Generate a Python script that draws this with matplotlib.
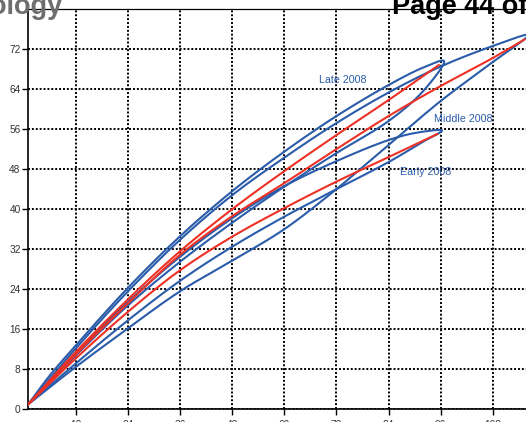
import numpy as np
import matplotlib
matplotlib.use("Agg")
import matplotlib.pyplot as plt

plt.rcParams['font.family'] = ['Liberation Sans', 'DejaVu Sans']

# ---- data -------------------------------------------------------------
x_ticks = [12, 24, 36, 48, 60, 72, 84, 96, 108]
y_ticks = [0, 8, 16, 24, 32, 40, 48, 56, 64, 72]

# Late 2008
late_upper_x = [1, 6, 12, 24, 36, 48, 60, 72, 84, 92]
late_upper_y = [1, 6.8, 12.8, 24.3, 34.6, 43.6, 51.5, 58.6, 64.8, 68.3]
late_tip = (96.8, 69.6)
late_lower_x = [1, 12, 24, 36, 48, 60, 72, 84, 92]
late_lower_y = [1, 10.8, 20.8, 29.5, 37.3, 44.5, 51.2, 57.6, 63.6]
late_mid_x = [1, 12, 24, 36, 48, 60, 72, 84, 95.6]
late_mid_y = [1, 11.5, 22.0, 31.6, 40.0, 47.6, 54.8, 61.8, 68.8]

# Middle 2008
middle_upper_x = [1, 12, 24, 36, 48, 60, 72, 84, 96, 108]
middle_upper_y = [1, 12.2, 23.6, 33.9, 42.8, 50.3, 57.2, 63.3, 68.5, 72.6]
middle_tip = (116.2, 74.8)
middle_lower_x = [1, 12, 24, 36, 48, 60, 72, 84, 96, 108]
middle_lower_y = [1, 8.5, 16.2, 23.6, 29.7, 36.0, 44.0, 52.8, 61.6, 69.4]
middle_mid_x = [1, 12, 24, 36, 48, 60, 72, 84, 96, 108, 115.3]
middle_mid_y = [1, 11.0, 21.2, 30.9, 38.6, 45.2, 52.0, 58.6, 64.6, 70.2, 73.9]

# Early 2008
early_upper_x = [1, 12, 24, 36, 48, 60, 72, 84, 90]
early_upper_y = [1, 11.2, 21.5, 30.5, 38.2, 44.6, 49.6, 53.8, 55.2]
early_tip = (96.3, 55.7)
early_lower_x = [1, 12, 24, 36, 48, 60, 72, 84, 92]
early_lower_y = [1, 9.2, 17.8, 25.7, 32.5, 38.5, 44.0, 49.4, 53.5]
early_mid_x = [1, 12, 24, 36, 48, 60, 72, 84, 95.2]
early_mid_y = [1, 10.2, 19.5, 27.8, 34.5, 40.2, 45.5, 50.4, 55.0]

labels = ["Late 2008", "Middle 2008", "Early 2008"]
label_pos = [(73.5, 65.8), (101.3, 58.1), (92.6, 47.4)]

BLUE = "#2a5caa"
RED = "#ee3124"


def smooth(xs, ys, n=14):
    """Centripetal Catmull-Rom curve through the given points."""
    P = np.column_stack([xs, ys]).astype(float)
    P = np.vstack([2 * P[0] - P[1], P, 2 * P[-1] - P[-2]])
    out = []
    for i in range(1, len(P) - 2):
        p0, p1, p2, p3 = P[i - 1], P[i], P[i + 1], P[i + 2]

        def tj(ti, a, b):
            return ti + max(np.hypot(*(b - a)), 1e-6) ** 0.5
        t0 = 0.0
        t1 = tj(t0, p0, p1)
        t2 = tj(t1, p1, p2)
        t3 = tj(t2, p2, p3)
        t = np.linspace(t1, t2, n, endpoint=False)[:, None]
        a1 = (t1 - t) / (t1 - t0) * p0 + (t - t0) / (t1 - t0) * p1
        a2 = (t2 - t) / (t2 - t1) * p1 + (t - t1) / (t2 - t1) * p2
        a3 = (t3 - t) / (t3 - t2) * p2 + (t - t2) / (t3 - t2) * p3
        b1 = (t2 - t) / (t2 - t0) * a1 + (t - t0) / (t2 - t0) * a2
        b2 = (t3 - t) / (t3 - t1) * a2 + (t - t1) / (t3 - t1) * a3
        c = (t2 - t) / (t2 - t1) * b1 + (t - t1) / (t2 - t1) * b2
        out.append(c)
    out.append(P[-2][None, :])
    pts = np.vstack(out)
    return pts[:, 0], pts[:, 1]


fig = plt.figure(figsize=(5.26, 4.22), dpi=100)
ax = fig.add_axes([0.0537, 0.0301, 0.982, 0.9486])
ax.set_xlim(1, 120)
ax.set_ylim(0, 80)

ax.set_xticks(x_ticks)
ax.set_yticks(y_ticks)
ax.grid(True, color="black", linestyle=(0, (1, 1)), linewidth=1.4,
        dash_capstyle="butt")
ax.set_axisbelow(True)

for s in ["left", "bottom"]:
    ax.spines[s].set_linewidth(1.2)
ax.spines["top"].set_linewidth(0.9)
ax.spines["right"].set_visible(False)
ax.tick_params(axis="both", direction="out", length=4, width=1,
               labelsize=7.3, labelcolor="#333333")
ax.tick_params(axis="y", pad=1.5)
ax.tick_params(axis="x", pad=4)

loops = [
    (late_upper_x, late_upper_y, late_tip, late_lower_x, late_lower_y,
     late_mid_x, late_mid_y),
    (middle_upper_x, middle_upper_y, middle_tip, middle_lower_x,
     middle_lower_y, middle_mid_x, middle_mid_y),
    (early_upper_x, early_upper_y, early_tip, early_lower_x, early_lower_y,
     early_mid_x, early_mid_y),
]

for ux, uy, tip, lx, ly, mx, my in loops:
    bx = list(ux) + [tip[0]] + list(lx)[::-1]
    by = list(uy) + [tip[1]] + list(ly)[::-1]
    sx, sy = smooth(bx, by)
    ax.plot(sx, sy, color=BLUE, lw=1.5, solid_joinstyle="round", zorder=3)
    rx, ry = smooth(mx, my)
    ax.plot(rx, ry, color=RED, lw=1.5, zorder=4)

for text, (lx_, ly_) in zip(labels, label_pos):
    ax.text(lx_, ly_, text, color=BLUE, fontsize=7.7, ha="center",
            va="center", zorder=5)

# page header pieces running across the top edge
fig.text(62 / 526, 1 - 14 / 422, "ology", ha="right", va="baseline",
         fontsize=19.5, fontweight="bold", color="#6e6e6e", zorder=10)
fig.text(392 / 526, 1 - 14 / 422, "Page 44 of", ha="left", va="baseline",
         fontsize=19.5, fontweight="bold", color="black", zorder=10)

fig.savefig("out.png", dpi=100)
